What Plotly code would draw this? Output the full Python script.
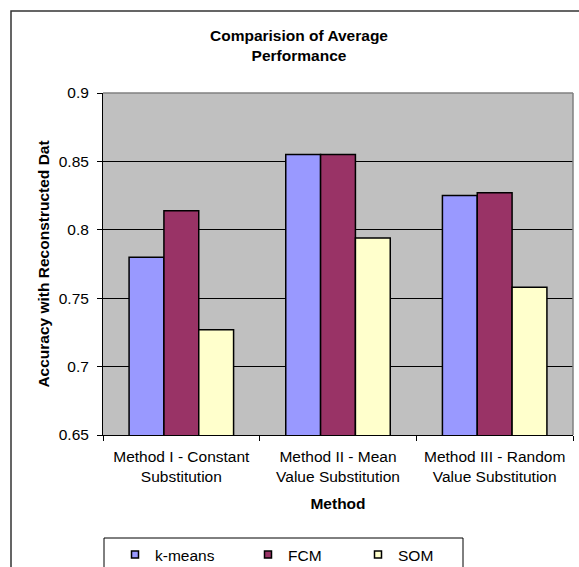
import plotly.graph_objects as go

categories = ["Method I - Constant<br>Substitution",
              "Method II - Mean<br>Value Substitution",
              "Method III - Random<br>Value Substitution"]
series_names = ["k-means", "FCM", "SOM"]
kmeans_vals = [0.780, 0.855, 0.825]
fcm_vals = [0.814, 0.855, 0.827]
som_vals = [0.727, 0.794, 0.758]
series_vals = [kmeans_vals, fcm_vals, som_vals]
series_colors = ["#9999FF", "#993366", "#FFFFCC"]
y_tickvals = [0.65, 0.7, 0.75, 0.8, 0.85, 0.9]
y_ticktext = ["0.65", "0.7", "0.75", "0.8", "0.85", "0.9"]

W, H = 579, 567
L, R, T, B = 103, 6, 93, 132
PW, PH = W - L - R, H - T - B

def px_x(px):
    return (px - L) / PW

def px_y(py):
    return (H - B - py) / PH

FONT = "Liberation Sans, Arial, sans-serif"

fig = go.Figure()
for name, vals, col in zip(series_names, series_vals, series_colors):
    fig.add_trace(go.Bar(x=categories, y=vals, name=name, showlegend=False,
                         marker=dict(color=col, line=dict(color="black", width=1.5))))
legend_widths = [88, 65, 40]
for name, col, lw in zip(series_names, series_colors, legend_widths):
    fig.add_trace(go.Scatter(x=[None], y=[None], mode="markers", name=name,
                             legendwidth=lw,
                             marker=dict(symbol="square", size=7, color=col,
                                         line=dict(color="black", width=1.5))))

fig.update_layout(
    width=W, height=H,
    margin=dict(l=L, r=R, t=T, b=B, pad=0, autoexpand=False),
    paper_bgcolor="white", plot_bgcolor="#C0C0C0",
    font=dict(family=FONT, size=15.5, color="black"),
    barmode="group", bargap=0.333, bargroupgap=0,
    title=dict(text="<b>Comparision of Average<br>Performance</b>",
               xref="container", x=299 / W, xanchor="center",
               yref="container", y=1 - 41 / H, yanchor="top",
               font=dict(size=15.5, family=FONT, color="black")),
    xaxis=dict(type="category", showline=True, linecolor="black", linewidth=1,
               ticks="outside", tickson="boundaries", ticklen=5, tickcolor="black",
               showgrid=False, automargin=False, ticklabelstandoff=7,
               title=dict(text="<b>Method</b>", standoff=14,
                          font=dict(size=15.5, family=FONT))),
    yaxis=dict(range=[0.65, 0.9], tickvals=y_tickvals, ticktext=y_ticktext,
               showline=True, linecolor="black", linewidth=1,
               ticks="outside", ticklen=5, tickcolor="black",
               showgrid=True, gridcolor="black", gridwidth=1, zeroline=False,
               ticklabelstandoff=5, automargin=False,
               title=dict(text="<b>Accuracy with Reconstructed Dat</b>", standoff=5,
                          font=dict(size=15.5, family=FONT))),
    legend=dict(orientation="h", xref="paper", x=px_x(115), xanchor="left",
                yref="paper", y=px_y(538), yanchor="top",
                bgcolor="rgba(0,0,0,0)", borderwidth=0,
                font=dict(size=15.5, family=FONT)),
    shapes=[
        dict(type="rect", xref="paper", yref="paper",
             x0=px_x(11), x1=px_x(620), y0=px_y(620), y1=px_y(11),
             line=dict(color="#333333", width=1.5), fillcolor="rgba(0,0,0,0)",
             layer="below"),
        dict(type="line", xref="paper", yref="paper", x0=0, x1=1, y0=1, y1=1,
             line=dict(color="#808080", width=1.5)),
        dict(type="line", xref="paper", yref="paper", x0=1, x1=1, y0=0, y1=1,
             line=dict(color="#808080", width=1.5)),
        dict(type="rect", xref="paper", yref="paper",
             x0=px_x(104), x1=px_x(463), y0=px_y(620), y1=px_y(538),
             line=dict(color="black", width=1), fillcolor="rgba(0,0,0,0)"),
    ],
)

fig.write_html("out.html", config={"displayModeBar": False},
               post_script="document.body.style.margin='0';document.body.style.overflow='hidden';")
